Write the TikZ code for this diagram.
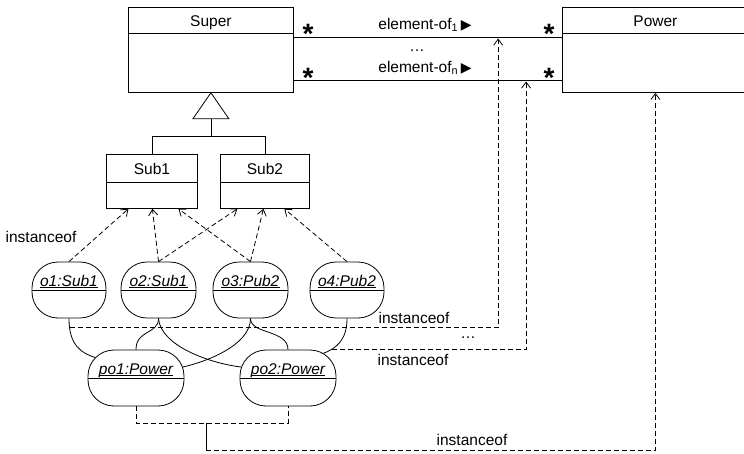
\documentclass[tikz,border=0pt]{standalone}
\usepackage{fontspec}
\setmainfont{Liberation Sans}
\newfontfamily\symbolfont{DejaVu Sans}
\usetikzlibrary{arrows.meta,calc}

\newcommand\diagfont{\fontsize{15.5}{18}\selectfont}

\tikzset{
  umlclass/.style={draw, line width=0.8pt, inner sep=0pt, anchor=north west},
  umlobject/.style={draw, fill=white, line width=0.8pt, rounded corners=26pt, inner sep=0pt, minimum height=56pt},
  objlabel/.style={font={\diagfont\itshape}, inner sep=0pt, anchor=base},
  lbl/.style={font=\diagfont, inner sep=0pt, anchor=base},
  mult/.style={font={\fontsize{28}{28}\selectfont\bfseries}, inner sep=0pt, anchor=base},
  link/.style={line width=0.8pt},
  dashline/.style={line width=0.8pt, dash pattern=on 5pt off 3pt},
  instof/.style={dashline, -{Straight Barb[length=6pt,width=9pt]}},
}

\begin{document}
\begin{tikzpicture}[x=1pt, y=-1pt, line width=0.8pt, font=\diagfont]
\useasboundingbox (0,0) rectangle (744,453);
\clip (0,0) rectangle (744,453);

% ---- classes ----
\node[umlclass, minimum width=165pt, minimum height=85pt] (super) at (128,7) {};
\draw ($(super.north west)+(0,26)$) -- ($(super.north east)+(0,26)$);
\node[lbl] (superName) at ($(super.north)+(0,19)$) {Super};

\node[umlclass, minimum width=186pt, minimum height=85pt] (power) at (562,7) {};
\draw ($(power.north west)+(0,26)$) -- ($(power.north east)+(0,26)$);
\node[lbl] (powerName) at ($(power.north)+(0,19)$) {Power};

\node[umlclass, minimum width=91pt, minimum height=54pt] (sub1) at (106,154) {};
\draw ($(sub1.north west)+(0,28)$) -- ($(sub1.north east)+(0,28)$);
\node[lbl] (sub1Name) at ($(sub1.north)+(0,20)$) {Sub1};

\node[umlclass, minimum width=89pt, minimum height=54pt] (sub2) at (220,154) {};
\draw ($(sub2.north west)+(0,28)$) -- ($(sub2.north east)+(0,28)$);
\node[lbl] (sub2Name) at ($(sub2.north)+(0,20)$) {Sub2};

% ---- generalization ----
\draw[fill=white] (super.south) -- ++(-18,26) -- ++(36,0) -- cycle;
\coordinate (gbase) at ($(super.south)+(0,26)$);
\coordinate (gjoin) at ($(super.south)+(0,44)$);
\draw (gbase) -- (gjoin);
\draw (sub1.north) |- (gjoin) -| (sub2.north);

% ---- associations ----
\draw ($(super.north east)+(0,30)$) -- coordinate[pos=0.762] (tip1) ($(power.north west)+(0,30)$);
\draw ($(super.north east)+(0,73)$) -- coordinate[pos=0.866] (tipn) ($(power.north west)+(0,73)$);

\node[mult] (m1l) at (308,43.5) {*};
\node[mult] (m2l) at (308,87.5) {*};
\node[mult] (m1r) at (549,43.5) {*};
\node[mult] (m2r) at (549,87.5) {*};

\node[lbl, anchor=base west] (assoc1) at (378,29) {element-of\textsubscript{1}\,{\symbolfont\fontsize{14}{14}\selectfont ▶}};
\node[lbl] (assocdots) at (417,51) {…};
\node[lbl, anchor=base west] (assocn) at (378,72) {element-of\textsubscript{n}\,{\symbolfont\fontsize{14}{14}\selectfont ▶}};

% ---- objects ----
\node[umlobject, minimum width=74pt] (o1) at (69,290) {};
\node[umlobject, minimum width=75pt] (o2) at (158.5,290) {};
\node[umlobject, minimum width=75pt] (o3) at (250.5,290) {};
\node[umlobject, minimum width=74pt] (o4) at (347,290) {};
\node[umlobject, minimum width=96pt] (po1) at (136,378) {};
\node[umlobject, minimum width=96pt] (po2) at (288,378) {};

\foreach \n/\t in {o1/o1:Sub1, o2/o2:Sub1, o3/o3:Pub2, o4/o4:Pub2, po1/po1:Power, po2/po2:Power} {
  \draw (\n.west) -- (\n.east);
  \node[objlabel] (\n-name) at ($(\n.center)+(0,-4)$) {\t};
  \draw[line width=1pt] ($(\n-name.base west)+(0,1.8)$) -- ($(\n-name.base east)+(0,1.8)$);
}

% ---- instanceof from objects to classes ----
\draw[instof] (o1.north) -- ($(sub1.south)+(-23.5,0)$);
\draw[instof] (o2.north) -- ($(sub1.south)+(0.5,0)$);
\draw[instof] (o2.north) -- ($(sub2.south)+(-27.5,0)$);
\draw[instof] (o3.north) -- ($(sub1.south)+(26.5,0)$);
\draw[instof] (o3.north) -- ($(sub2.south)+(-1.5,0)$);
\draw[instof] (o4.north) -- ($(sub2.south)+(19.5,0)$);
\node[lbl] (instLeft) at (41,242) {instanceof};

% ---- links between objects ----
\draw[link] (o1.south) .. controls +(0,27) and +(-14.4,-4.4) .. ($(po1.center)+(-40.4,-20.4)$) coordinate[pos=0.12] (l1);
\draw[link] (o2.south) .. controls +(0,16) and +(0,-20) .. (po1.north);
\draw[link] (o2.south) .. controls +(2,27) and +(-33,-4) .. ($(po2.center)+(-46.4,-10.9)$);
\draw[link] (o3.south) .. controls +(0,27) and +(23,-5) .. ($(po1.center)+(46.4,-10.9)$);
\draw[link] (o3.south) .. controls +(0,16) and +(0,-20) .. (po2.north);
\draw[link] (o4.south) .. controls +(0,22) and +(13,-5) .. ($(po2.center)+(35,-24.5)$) coordinate[pos=0.77] (l6);

% ---- instanceof from links to associations ----
\draw[instof, shorten >=1.5pt] (l1) -| (tip1);
\draw[instof, shorten >=1.5pt] (l6) -| (tipn);
\node[lbl] (instA) at (414,323) {instanceof};
\node[lbl] (instdots) at (468,338) {…};
\node[lbl] (instB) at (413,365) {instanceof};

% ---- instanceof from power objects to Power ----
\draw[dashline] (po1.south) -- ++(0,17) coordinate (pb1) -| (po2.south);
\coordinate (stemtop) at ($(pb1)!0.46!(pb1 -| po2.south)$);
\draw (stemtop) -- ++(0,27) coordinate (stembot);
\draw[instof] (stembot) -| (power.south);
\node[lbl] (instBottom) at (472,445) {instanceof};
\end{tikzpicture}
\end{document}
